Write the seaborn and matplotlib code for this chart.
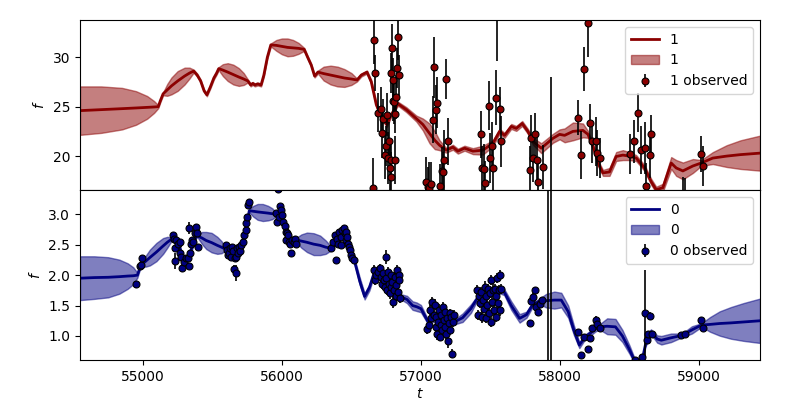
import numpy as np
import pandas as pd
import matplotlib
matplotlib.use('Agg')
import matplotlib.pyplot as plt
import seaborn as sns

# ---- band 1 (top panel): model mean / sigma
t_model_1 = [54547, 54700, 54850, 54950, 55030, 55080, 55110, 55125, 55145, 55175,
             55205, 55250, 55300, 55335, 55365, 55390, 55415, 55440, 55460, 55485,
             55510, 55530, 55545, 55575, 55610, 55650, 55690, 55725, 55755, 55775,
             55790, 55805, 55825, 55850, 55870, 55895, 55920, 55960, 56000, 56040,
             56080, 56120, 56160, 56185, 56211, 56235, 56259, 56300, 56350, 56400,
             56450, 56500, 56540, 56571, 56612, 56643, 56679, 56715, 56755, 56787,
             56835, 56895, 56967, 57014, 57062, 57100, 57134, 57182, 57230, 57266,
             57314, 57374, 57446, 57518, 57566, 57602, 57650, 57686, 57729, 57770,
             57806, 57866, 57950, 57998, 58034, 58094, 58166, 58202, 58238, 58281,
             58310, 58357, 58405, 58453, 58501, 58549, 58609, 58657, 58693, 58741,
             58801, 58837, 58885, 58957, 59017, 59100, 59200, 59300, 59440]
mu_model_1 = [24.6, 24.7, 24.8, 24.87, 24.93, 24.97, 25.0, 25.6, 26.3, 26.7,
              27.1, 27.6, 28.1, 28.4, 28.6, 28.2, 27.6, 26.6, 26.2, 27.0,
              27.9, 28.4, 28.85, 28.7, 28.5, 28.25, 28.0, 27.8, 27.6, 27.2,
              27.35, 27.2, 27.3, 27.2, 28.2, 30.0, 31.25, 31.2, 31.1, 31.0,
              30.95, 30.9, 30.8, 30.0, 29.2, 28.1, 28.5, 28.35, 28.2, 28.05,
              27.9, 27.8, 27.7, 28.2, 28.5, 27.5, 25.2, 24.0, 23.2, 24.2,
              25.3, 24.7, 23.8, 23.2, 22.3, 21.6, 21.1, 20.6, 20.9, 20.5,
              20.8, 20.5, 20.6, 21.3, 22.5, 22.1, 23.0, 22.8, 23.3, 22.5,
              21.5, 20.8, 21.8, 22.2, 22.1, 22.5, 22.6, 22.2, 21.0, 19.1,
              18.3, 18.4, 19.96, 20.1, 20.0, 19.8, 18.8, 17.4, 16.6, 16.8,
              19.3, 18.8, 18.5, 19.0, 19.3, 19.8, 20.0, 20.15, 20.3]
sd_model_1 = [2.45, 2.35, 2.1, 1.7, 1.15, 0.6, 0.15, 0.15, 0.15, 0.6,
              0.85, 1.0, 0.85, 0.55, 0.15, 0.15, 0.15, 0.15, 0.15, 0.15,
              0.15, 0.15, 0.15, 0.6, 0.9, 1.0, 0.9, 0.6, 0.15, 0.15,
              0.15, 0.15, 0.15, 0.15, 0.15, 0.15, 0.15, 0.55, 0.8, 0.9,
              0.8, 0.55, 0.15, 0.15, 0.15, 0.15, 0.15, 0.7, 0.95, 1.0,
              0.9, 0.6, 0.15, 0.15, 0.15, 0.2, 0.25, 0.25, 0.25, 0.2,
              0.2, 0.25, 0.3, 0.6, 1.0, 0.9, 0.5, 0.25, 0.25, 0.25,
              0.25, 0.3, 0.45, 0.3, 0.25, 0.25, 0.25, 0.25, 0.25, 0.25,
              0.35, 0.5, 0.45, 0.5, 0.7, 0.9, 0.7, 0.35, 0.3, 0.3,
              0.3, 0.4, 0.45, 0.5, 0.4, 0.3, 0.3, 0.3, 0.3, 0.4,
              0.6, 0.8, 0.85, 0.7, 0.3, 0.6, 1.1, 1.45, 1.77]

# ---- band 1 observations
t_obs_1 = [56655, 56662, 56672, 56691, 56715, 56722, 56727, 56739, 56746, 56755,
           56763, 56770, 56775, 56782, 56787, 56787, 56789, 56796, 56799, 56803,
           56811, 56815, 56823, 56830, 56835, 56842, 57038, 57051, 57055, 57070,
           57086, 57094, 57106, 57115, 57134, 57151, 57158, 57168, 57182, 57194,
           57434, 57441, 57451, 57458, 57489, 57499, 57511, 57518, 57542, 57550,
           57571, 57576, 57782, 57794, 57806, 57818, 57835, 57842, 57878, 57938,
           58130, 58149, 58173, 58202, 58218, 58228, 58257, 58266, 58286, 58501,
           58532, 58561, 58585, 58609, 58621, 58645, 58657, 58885, 58897, 59017,
           59029]
f_obs_1 = [16.8, 31.75, 28.4, 24.4, 24.8, 22.3, 23.8, 20.1, 21.0, 24.2,
           19.8, 21.5, 18.8, 19.6, 17.9, 28.4, 30.9, 27.7, 25.6, 25.5,
           24.3, 19.6, 26.0, 28.9, 32.1, 28.2, 17.4, 16.9, 16.8, 17.2,
           23.7, 29.0, 24.7, 25.4, 17.0, 18.5, 18.4, 19.6, 27.8, 21.5,
           22.2, 18.8, 18.7, 17.3, 25.1, 19.8, 21.0, 18.8, 25.9, 35.5,
           24.8, 21.5, 18.6, 21.8, 19.8, 22.2, 19.6, 17.4, 18.9, 12.0,
           23.9, 20.1, 28.8, 33.5, 23.3, 21.5, 21.5, 20.3, 19.8, 20.2,
           21.5, 24.4, 20.6, 20.8, 17.0, 20.1, 22.2, 15.4, 15.6, 20.2,
           19.0]
e_obs_1 = [3.0, 2.4, 1.8, 2.0, 2.2, 2.5, 2.0, 2.4, 2.0, 2.2,
           2.6, 2.0, 2.4, 2.0, 2.5, 2.0, 2.5, 2.2, 2.0, 2.3,
           2.0, 2.4, 2.2, 2.0, 2.4, 2.0, 2.5, 2.0, 2.6, 2.2,
           2.4, 3.1, 2.5, 2.6, 2.2, 2.4, 2.0, 3.0, 2.0, 2.4,
           2.4, 2.2, 2.5, 2.2, 2.5, 2.5, 2.4, 2.2, 2.8, 5.9,
           2.2, 2.6, 2.4, 2.4, 2.4, 2.2, 2.4, 2.4, 2.2, 16.0,
           1.8, 2.4, 2.2, 3.5, 2.0, 2.2, 2.5, 2.3, 2.0, 2.0,
           2.2, 2.0, 2.4, 2.6, 2.3, 2.3, 2.0, 2.5, 2.2, 1.8,
           2.0]

# ---- band 0 (bottom panel): model mean / sigma
t_model_0 = [54547, 54650, 54750, 54830, 54890, 54930, 54960, 54975, 54990, 55020,
             55050, 55097, 55145, 55175, 55205, 55215, 55240, 55265, 55290, 55310,
             55335, 55360, 55385, 55396, 55425, 55455, 55494, 55535, 55565, 55592,
             55640, 55700, 55740, 55765, 55795, 55825, 55862, 55900, 55930, 55960,
             56000, 56030, 56060, 56100, 56140, 56180, 56228, 56275, 56315, 56355,
             56400, 56450, 56490, 56520, 56560, 56595, 56630, 56665, 56700, 56750,
             56800, 56850, 56900, 56940, 56970, 57000, 57050, 57100, 57150, 57200,
             57240, 57300, 57360, 57400, 57450, 57500, 57560, 57600, 57650, 57710,
             57760, 57800, 57850, 57900, 57960, 58010, 58060, 58100, 58140, 58180,
             58215, 58260, 58290, 58340, 58400, 58450, 58500, 58540, 58590, 58615,
             58655, 58700, 58730, 58800, 58880, 58950, 59020, 59080, 59150, 59230,
             59320, 59440]
mu_model_0 = [1.95, 1.96, 1.965, 1.975, 1.985, 1.99, 2.00, 2.10, 2.17, 2.23,
              2.29, 2.38, 2.48, 2.54, 2.59, 2.62, 2.55, 2.45, 2.25, 2.20,
              2.35, 2.50, 2.65, 2.64, 2.61, 2.57, 2.535, 2.49, 2.46, 2.43,
              2.40, 2.42, 2.75, 3.06, 3.05, 3.04, 3.03, 3.02, 3.01, 3.00,
              2.95, 2.70, 2.55, 2.58, 2.56, 2.54, 2.51, 2.49, 2.46, 2.44,
              2.58, 2.68, 2.45, 2.25, 1.90, 1.65, 1.80, 2.05, 2.00, 1.95,
              1.80, 1.65, 1.60, 1.50, 1.48, 1.45, 1.24, 1.27, 1.24, 1.24,
              1.23, 1.30, 1.45, 1.60, 1.65, 1.68, 1.75, 1.72, 1.50, 1.29,
              1.35, 1.50, 1.57, 1.58, 1.59, 1.59, 1.40, 1.10, 0.85, 0.98,
              1.04, 1.12, 1.15, 1.16, 1.15, 1.00, 0.78, 0.58, 0.58, 0.85,
              1.07, 0.95, 0.93, 0.97, 1.01, 1.10, 1.18, 1.19, 1.205, 1.215,
              1.23, 1.25]
sd_model_0 = [0.36, 0.35, 0.33, 0.28, 0.21, 0.14, 0.04, 0.03, 0.03, 0.09,
              0.13, 0.15, 0.13, 0.09, 0.03, 0.03, 0.04, 0.04, 0.04, 0.04,
              0.04, 0.04, 0.03, 0.03, 0.10, 0.14, 0.16, 0.14, 0.10, 0.03,
              0.04, 0.04, 0.04, 0.03, 0.09, 0.13, 0.14, 0.12, 0.09, 0.03,
              0.03, 0.04, 0.04, 0.03, 0.11, 0.16, 0.18, 0.16, 0.11, 0.03,
              0.04, 0.04, 0.04, 0.04, 0.06, 0.05, 0.05, 0.04, 0.03, 0.03,
              0.03, 0.04, 0.06, 0.07, 0.07, 0.06, 0.04, 0.03, 0.03, 0.03,
              0.04, 0.07, 0.07, 0.04, 0.03, 0.03, 0.04, 0.05, 0.07, 0.07,
              0.05, 0.04, 0.04, 0.11, 0.14, 0.12, 0.10, 0.08, 0.05, 0.04,
              0.04, 0.04, 0.05, 0.13, 0.13, 0.10, 0.07, 0.04, 0.03, 0.03,
              0.04, 0.06, 0.07, 0.07, 0.03, 0.06, 0.03, 0.12, 0.20, 0.26,
              0.31, 0.365]

# ---- band 0 observations
t_obs_0 = [54952, 54976, 54988, 54995,
           55216, 55221, 55228, 55228, 55240, 55252, 55264, 55269, 55276, 55283,
           55293, 55307, 55324, 55331, 55331, 55336, 55348, 55355, 55360, 55372,
           55384, 55391, 55396,
           55595, 55604, 55611, 55619, 55628, 55635, 55643, 55647, 55652, 55659,
           55667, 55671, 55676, 55683, 55691, 55695, 55707, 55719, 55727, 55739,
           55743, 55748, 55755, 55763,
           55959, 55964, 55969, 55978, 55983, 55995, 56002, 56007, 56019, 56026,
           56031, 56038, 56043, 56050, 56055, 56067, 56074, 56084, 56091, 56098,
           56355, 56367, 56379, 56391, 56396, 56403, 56410, 56422, 56427, 56434,
           56444, 56451, 56458, 56463, 56468, 56475, 56482, 56492, 56499, 56506,
           56516,
           56660, 56672, 56679, 56691, 56703, 56710, 56719, 56727, 56734, 56739,
           56746, 56751, 56758, 56763, 56770, 56775, 56782, 56787, 56794, 56799,
           56806, 56811, 56818, 56823, 56830, 56835, 56839, 56842, 56847,
           57043, 57055, 57067, 57074, 57082, 57091, 57098, 57106, 57110, 57115,
           57122, 57130, 57134, 57142, 57146, 57154, 57158, 57163, 57170, 57175,
           57182, 57187, 57194, 57201, 57206, 57211, 57218, 57225, 57230, 57235,
           57403, 57410, 57417, 57427, 57434, 57441, 57446, 57453, 57458, 57465,
           57470, 57475, 57482, 57489, 57494, 57501, 57506, 57511, 57518, 57525,
           57530, 57537, 57542, 57549, 57554, 57561, 57566, 57571, 57578,
           57782, 57789, 57806, 57818, 57830, 57842, 57859, 57873, 57918, 57937,
           58130, 58149, 58170, 58202, 58218, 58233, 58257, 58269, 58290,
           58537, 58592, 58614, 58626, 58633, 58650, 58664,
           58873, 58902, 59017, 59029]
f_obs_0 = [1.85, 2.15, 2.17, 2.28,
           2.66, 2.60, 2.44, 2.23, 2.58, 2.52, 2.55, 2.36, 2.30, 2.11,
           2.22, 2.28, 2.28, 2.15, 2.78, 2.36, 2.52, 2.58, 2.55, 2.69,
           2.79, 2.70, 2.46,
           2.50, 2.41, 2.33, 2.36, 2.44, 2.30, 2.47, 2.39, 2.10, 2.28,
           2.30, 2.04, 2.44, 2.36, 2.47, 2.39, 2.50, 2.55, 2.66, 2.74,
           2.85, 2.96, 3.15, 3.21,
           3.02, 2.88, 3.42, 2.96, 3.13, 3.07, 2.99, 2.88, 2.80, 2.71,
           2.58, 2.69, 2.66, 2.55, 2.52, 2.36, 2.58, 2.55, 2.60, 2.52,
           2.44, 2.55, 2.66, 2.25, 2.60, 2.52, 2.71, 2.63, 2.50, 2.74,
           2.77, 2.69, 2.58, 2.71, 2.63, 2.52, 2.47, 2.41, 2.33, 2.28,
           2.25,
           2.08, 1.92, 2.00, 2.06, 2.11, 1.97, 1.86, 2.03, 1.92, 1.81,
           2.30, 1.95, 1.76, 2.06, 1.86, 1.70, 2.00, 1.81, 1.89, 1.56,
           1.76, 1.97, 1.65, 1.84, 2.08, 1.73, 2.00, 1.92, 1.62,
           1.11, 1.18, 1.43, 1.29, 1.56, 1.34, 1.51, 1.15, 1.32, 1.04,
           1.23, 1.43, 0.99, 1.18, 1.34, 1.10, 1.48, 1.26, 1.15, 1.40,
           1.04, 1.29, 0.91, 1.21, 1.37, 1.10, 1.32, 0.71, 1.23, 1.34,
           1.76, 1.34, 1.65, 1.54, 1.73, 1.32, 1.59, 1.45, 1.81, 1.29,
           1.65, 1.51, 1.78, 1.37, 1.70, 1.23, 1.92, 1.56, 1.76, 1.43,
           1.78, 1.32, 1.65, 1.95, 1.54, 1.76, 2.00, 1.43, 1.78,
           1.22, 1.57, 1.64, 1.75, 1.47, 1.39, 1.52, 1.59, 4.5, 4.5,
           1.07, 0.69, 0.99, 0.78, 0.96, 1.13, 1.27, 1.19, 1.13,
           0.61, 0.66, 1.37, 0.93, 1.04, 1.33, 1.04,
           1.01, 1.03, 1.26, 1.13]
e_obs_0 = [0.06, 0.05, 0.05, 0.05,
           0.04, 0.04, 0.05, 0.13, 0.05, 0.05, 0.05, 0.05, 0.06, 0.05,
           0.06, 0.05, 0.05, 0.05, 0.10, 0.06, 0.05, 0.05, 0.06, 0.05,
           0.05, 0.05, 0.05,
           0.05, 0.04, 0.05, 0.04, 0.05, 0.05, 0.04, 0.05, 0.06, 0.05,
           0.05, 0.13, 0.05, 0.05, 0.04, 0.05, 0.05, 0.04, 0.04, 0.05,
           0.05, 0.05, 0.05, 0.05,
           0.04, 0.04, 0.06, 0.04, 0.04, 0.04, 0.05, 0.05, 0.05, 0.05,
           0.05, 0.04, 0.05, 0.05, 0.05, 0.05, 0.05, 0.05, 0.04, 0.05,
           0.05, 0.05, 0.05, 0.05, 0.05, 0.05, 0.05, 0.05, 0.05, 0.04,
           0.05, 0.05, 0.05, 0.05, 0.05, 0.05, 0.05, 0.05, 0.05, 0.05,
           0.05,
           0.08, 0.08, 0.07, 0.08, 0.07, 0.08, 0.08, 0.07, 0.09, 0.08,
           0.11, 0.08, 0.08, 0.07, 0.08, 0.09, 0.08, 0.08, 0.07, 0.10,
           0.08, 0.08, 0.08, 0.07, 0.08, 0.08, 0.08, 0.08, 0.08,
           0.08, 0.08, 0.08, 0.09, 0.08, 0.08, 0.09, 0.08, 0.08, 0.10,
           0.08, 0.09, 0.08, 0.08, 0.09, 0.08, 0.08, 0.10, 0.08, 0.08,
           0.09, 0.08, 0.10, 0.08, 0.08, 0.09, 0.08, 0.08, 0.08, 0.08,
           0.08, 0.08, 0.09, 0.08, 0.08, 0.10, 0.08, 0.08, 0.09, 0.08,
           0.08, 0.10, 0.08, 0.09, 0.08, 0.08, 0.09, 0.08, 0.12, 0.08,
           0.08, 0.09, 0.08, 0.08, 0.09, 0.08, 0.08, 0.10, 0.08,
           0.05, 0.05, 0.06, 0.06, 0.06, 0.06, 0.05, 0.05, 6.0, 6.0,
           0.05, 0.05, 0.05, 0.05, 0.05, 0.05, 0.06, 0.05, 0.05,
           0.04, 0.05, 0.71, 0.05, 0.05, 0.06, 0.05,
           0.04, 0.04, 0.05, 0.05]

bands = [
    ('1', 'darkred', t_model_1, mu_model_1, sd_model_1, t_obs_1, f_obs_1, e_obs_1, (16.57, 33.77)),
    ('0', 'navy', t_model_0, mu_model_0, sd_model_0, t_obs_0, f_obs_0, e_obs_0, (0.605, 3.40)),
]

fig, axes = plt.subplots(2, 1, sharex=True, figsize=(8, 4), dpi=100)
fig.subplots_adjust(left=0.1, right=0.95, top=0.95, bottom=0.1, hspace=0)

for ax, (name, col, tm, mu, sd, to, fo, eo, ylim) in zip(axes, bands):
    model = pd.DataFrame({'t': tm, 'mu': mu, 'sd': sd})
    sns.lineplot(data=model, x='t', y='mu', color=col, lw=2, ax=ax, label=name)
    ax.fill_between(model['t'], model['mu'] - model['sd'], model['mu'] + model['sd'],
                    color=col, alpha=0.5, label=name)
    ax.errorbar(to, fo, yerr=eo, fmt='o', color=col, mfc=col, mec='k', ecolor='k',
                ms=5, mew=0.8, elinewidth=1.2, label=name + ' observed')
    ax.set_ylim(*ylim)
    ax.set_ylabel('$f$')
    ax.legend(loc='upper right')

axes[0].set_yticks([20, 25, 30])
axes[1].set_yticks([1.0, 1.5, 2.0, 2.5, 3.0])
axes[1].set_xlim(54547, 59440)
axes[1].set_xlabel('$t$', labelpad=2)

plt.savefig('out.png', dpi=100)
